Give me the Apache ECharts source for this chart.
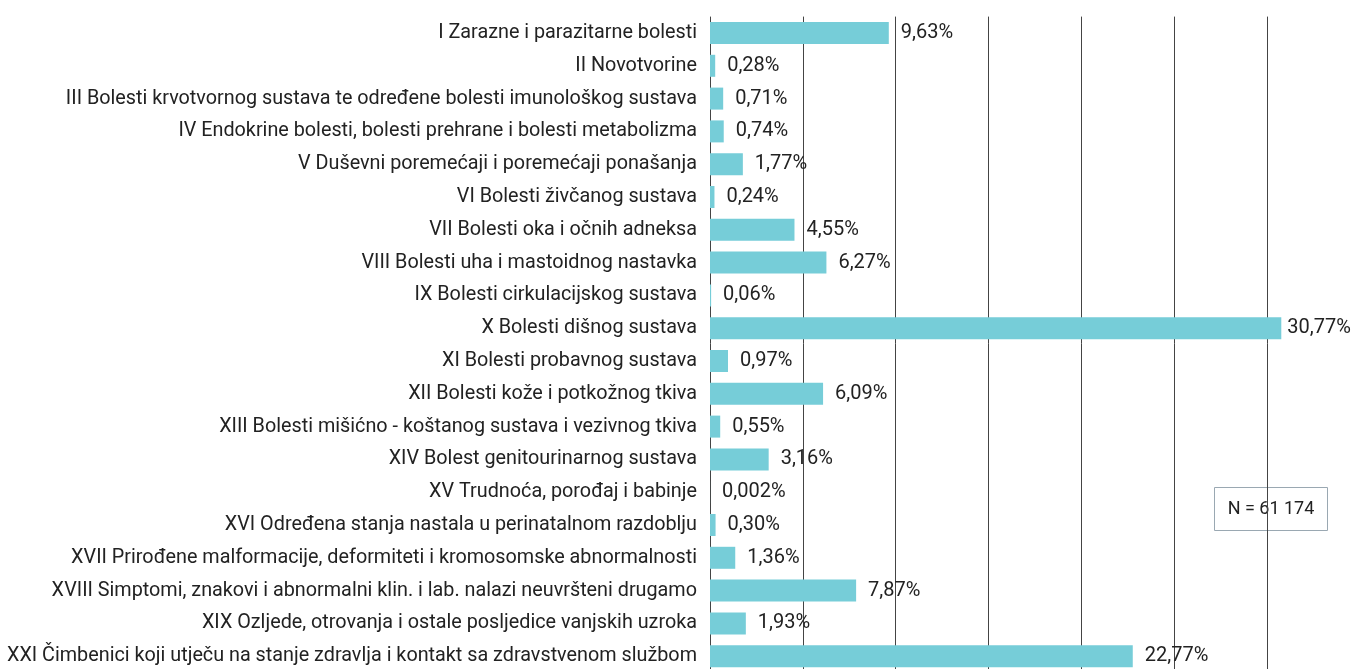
<!DOCTYPE html>
<html>
<head>
<meta charset="utf-8">
<script src="https://cdn.jsdelivr.net/npm/echarts@6/dist/echarts.min.js"></script>
<style>
html,body{margin:0;padding:0;background:#fff;}
#chart{width:1355px;height:669px;}
</style>
</head>
<body>
<div id="chart"></div>
<script>
var categories = [
  "I Zarazne i parazitarne bolesti",
  "II Novotvorine",
  "III Bolesti krvotvornog sustava te određene bolesti imunološkog sustava",
  "IV Endokrine bolesti, bolesti prehrane i bolesti metabolizma",
  "V Duševni poremećaji i poremećaji ponašanja",
  "VI Bolesti živčanog sustava",
  "VII Bolesti oka i očnih adneksa",
  "VIII Bolesti uha i mastoidnog nastavka",
  "IX Bolesti cirkulacijskog sustava",
  "X Bolesti dišnog sustava",
  "XI Bolesti probavnog sustava",
  "XII Bolesti kože i potkožnog tkiva",
  "XIII Bolesti mišićno - koštanog sustava i vezivnog tkiva",
  "XIV Bolest genitourinarnog sustava",
  "XV Trudnoća, porođaj i babinje",
  "XVI Određena stanja nastala u perinatalnom razdoblju",
  "XVII Prirođene malformacije, deformiteti i kromosomske abnormalnosti",
  "XVIII Simptomi, znakovi i abnormalni klin. i lab. nalazi neuvršteni drugamo",
  "XIX Ozljede, otrovanja i ostale posljedice vanjskih uzroka",
  "XXI Čimbenici koji utječu na stanje zdravlja i kontakt sa zdravstvenom službom"
];
var values = [9.63, 0.28, 0.71, 0.74, 1.77, 0.24, 4.55, 6.27, 0.06, 30.77, 0.97, 6.09, 0.55, 3.16, 0.002, 0.30, 1.36, 7.87, 1.93, 22.77];
var valueLabels = ["9,63%", "0,28%", "0,71%", "0,74%", "1,77%", "0,24%", "4,55%", "6,27%", "0,06%", "30,77%", "0,97%", "6,09%", "0,55%", "3,16%", "0,002%", "0,30%", "1,36%", "7,87%", "1,93%", "22,77%"];
var noteText = "N = 61 174";

var chart = echarts.init(document.getElementById('chart'), null, {renderer: 'canvas'});
var FONT = 'Roboto';
var seriesData = values.map(function (v) {
  return v > 30 ? {value: v, label: {distance: 6}} : v;
});
chart.setOption({
  animation: false,
  backgroundColor: '#ffffff',
  grid: {left: 710, right: 88, top: 16.6, height: 656, containLabel: false, outerBoundsMode: 'none'},
  xAxis: {
    type: 'value', min: 0, max: 30, interval: 5,
    axisLabel: {show: false}, axisTick: {show: false}, axisLine: {show: false},
    splitLine: {show: true, lineStyle: {color: '#444', width: 1}}
  },
  yAxis: {
    type: 'category', data: categories, inverse: true,
    axisLine: {show: false}, axisTick: {show: false},
    axisLabel: {color: '#222', fontFamily: FONT, fontSize: 19.8, margin: 13}
  },
  series: [{
    type: 'bar', data: seriesData, barWidth: 22, clip: false,
    itemStyle: {color: '#76CDD8'},
    label: {
      show: true, position: 'right', distance: 12,
      color: '#222', fontFamily: FONT, fontSize: 20,
      formatter: function (p) { return valueLabels[p.dataIndex]; }
    }
  }],
  graphic: [{
    type: 'group', left: 1214, top: 487,
    children: [
      {type: 'rect', shape: {x: 0, y: 0, width: 113, height: 43}, style: {fill: '#fff', stroke: '#9aa8b2', lineWidth: 1}},
      {type: 'text', x: 56.5, y: 21.5, style: {text: noteText, fill: '#222', font: '18px Roboto', align: 'center', verticalAlign: 'middle'}}
    ]
  }]
});
</script>
</body>
</html>
